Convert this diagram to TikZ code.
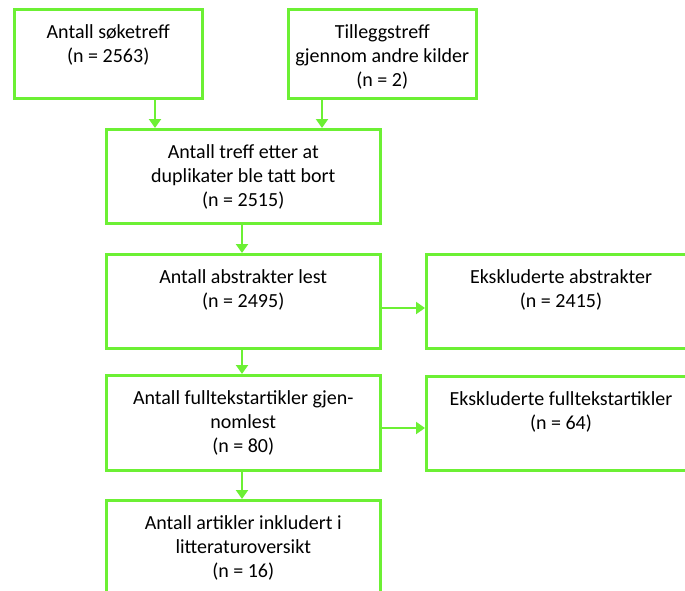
\documentclass[tikz,border=0pt]{standalone}
\usepackage{fontspec}
\setmainfont{Carlito}
\usetikzlibrary{arrows.meta,calc}
\definecolor{lgreen}{RGB}{108,240,52}
\tikzset{
  box/.style={draw=lgreen, line width=2.5pt, rectangle, inner sep=0pt, anchor=north west},
  txt/.style={anchor=north, align=center, inner sep=0pt, font=\fontsize{20}{24.4}\selectfont, text=black},
  arr/.style={draw=lgreen, line width=2pt, -{Triangle[width=12pt,length=9pt]}}
}
\begin{document}
\begin{tikzpicture}[x=1pt,y=-1pt]
\path[use as bounding box, clip] (0,0) rectangle (685,590);
\fill[white] (0,0) rectangle (685,590);
% boxes
\node[box, minimum width=188pt, minimum height=89pt] (b1) at (13,8) {};
\node[box, minimum width=188pt, minimum height=89pt] (b2) at (287,8) {};
\node[box, minimum width=274pt, minimum height=94pt] (b3) at (105,128) {};
\node[box, minimum width=274pt, minimum height=94pt] (b4) at (105,253) {};
\node[box, minimum width=290pt, minimum height=94pt] (b5) at (425,253) {};
\node[box, minimum width=274pt, minimum height=95pt] (b6) at (105,374) {};
\node[box, minimum width=290pt, minimum height=94pt] (b7) at (425,375) {};
\node[box, minimum width=274pt, minimum height=110pt] (b8) at (105,499) {};
% texts
\node[txt] (t1) at ($(b1.north)+(0,16)$) {Antall søketreff\\(n = 2563)};
\node[txt] (t2) at ($(b2.north)+(0,16)$) {Tilleggstreff\\gjennom andre kilder\\(n = 2)};
\node[txt] (t3) at ($(b3.north)+(0,16)$) {Antall treff etter at\\duplikater ble tatt bort\\(n = 2515)};
\node[txt] (t4) at ($(b4.north)+(0,16)$) {Antall abstrakter lest\\(n = 2495)};
\node[txt] (t5) at ($(b5.north west)+(136,16)$) {Ekskluderte abstrakter\\(n = 2415)};
\node[txt] (t6) at ($(b6.north)+(0,16)$) {Antall fulltekstartikler gjen-\\nomlest\\(n = 80)};
\node[txt] (t7) at ($(b7.north west)+(136,16)$) {Ekskluderte fulltekstartikler\\(n = 64)};
\node[txt] (t8) at ($(b8.north)+(0,16)$) {Antall artikler inkludert i\\litteraturoversikt\\(n = 16)};
% arrows
\coordinate (x1) at (155,0);
\coordinate (x2) at (322,0);
\coordinate (x3) at (242,0);
\coordinate (y1) at (0,308);
\coordinate (y2) at (0,428);
\draw[arr] (x1 |- b1.south) -- (x1 |- b3.north);
\draw[arr] (x2 |- b2.south) -- (x2 |- b3.north);
\draw[arr] (x3 |- b3.south) -- (x3 |- b4.north);
\draw[arr] (x3 |- b4.south) -- (x3 |- b6.north);
\draw[arr] (x3 |- b6.south) -- (x3 |- b8.north);
\draw[arr] (b4.east |- y1) -- (b5.west |- y1);
\draw[arr] (b6.east |- y2) -- (b7.west |- y2);
\end{tikzpicture}
\end{document}
